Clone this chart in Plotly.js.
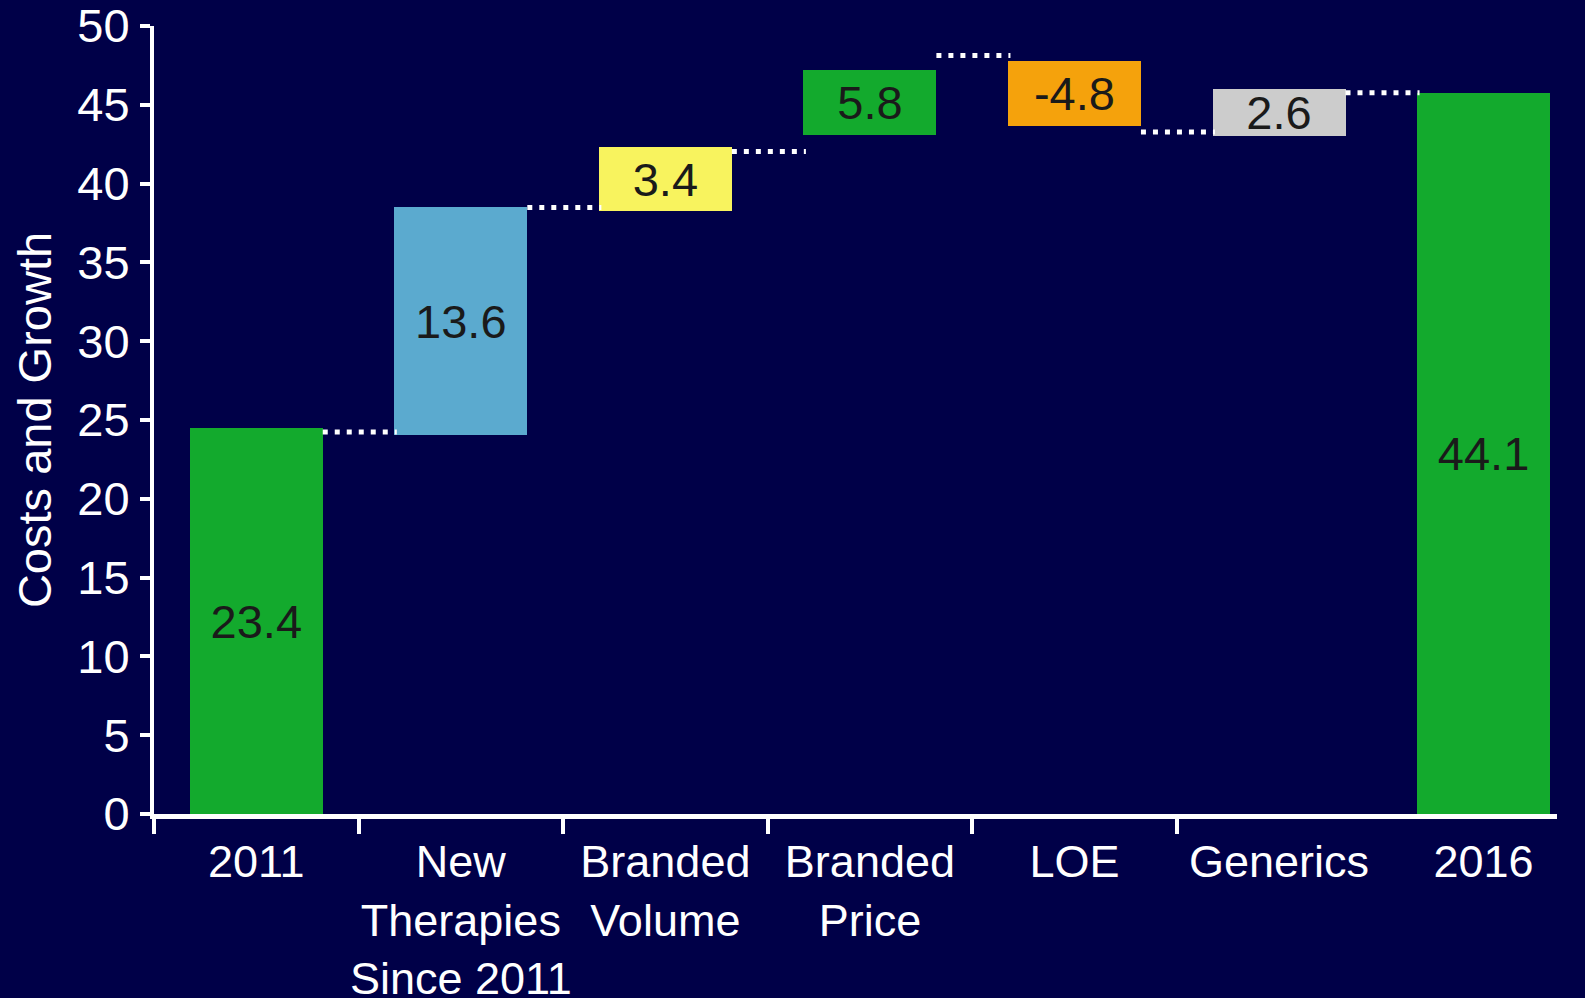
<!DOCTYPE html>
<html>
<head>
<meta charset="utf-8">
<script src="https://cdn.plot.ly/plotly-3.0.1.min.js"></script>
<style>html,body{margin:0;padding:0;background:#000048;}#chart{width:1585px;height:998px;}</style>
</head>
<body>
<div id="chart"></div>
<script>
// Data
const categories = ['2011', 'New<br>Therapies<br>Since 2011', 'Branded<br>Volume', 'Branded<br>Price', 'LOE', 'Generics', '2016'];
const barBottoms = [0, 24.05, 38.26, 43.08, 43.65, 43.01, 0];
const barTops = [24.48, 38.49, 42.30, 47.18, 47.75, 45.98, 45.78];
const barLabels = ['23.4', '13.6', '3.4', '5.8', '-4.8', '2.6', '44.1'];
const barColors = ['#13AA2D', '#5BAACF', '#F8F35E', '#13AA2D', '#F5A20C', '#CCCCCC', '#13AA2D'];
const connectorLevels = [24.24, 38.49, 42.04, 48.13, 43.27, 45.76];
const yTicks = [0, 5, 10, 15, 20, 25, 30, 35, 40, 45, 50];

const FONT = 'Liberation Sans, Arial, sans-serif';
const BAR_W = 0.65;
const idx = categories.map((c, i) => i);

const traces = [{
  type: 'bar',
  x: idx,
  base: barBottoms,
  y: barTops.map((t, i) => t - barBottoms[i]),
  width: BAR_W,
  marker: {color: barColors, line: {width: 0}},
  text: barLabels,
  textposition: 'inside',
  insidetextanchor: 'middle',
  textangle: 0,
  constraintext: 'none',
  textfont: {family: FONT, size: 47, color: '#1a1a1a'},
  hoverinfo: 'skip',
  showlegend: false
}];

connectorLevels.forEach((lvl, i) => {
  traces.push({
    type: 'scatter',
    mode: 'lines',
    x: [i + BAR_W / 2, i + 1 - BAR_W / 2 + 0.012],
    y: [lvl, lvl],
    line: {color: '#ffffff', width: 5, dash: '5px,7px'},
    hoverinfo: 'skip',
    showlegend: false
  });
});

const layout = {
  width: 1585,
  height: 998,
  paper_bgcolor: '#000048',
  plot_bgcolor: '#000048',
  margin: {l: 154, r: 28, t: 25.5, b: 184, pad: 0},
  bargap: 0,
  xaxis: {
    type: 'linear',
    range: [-0.5, 6.359],
    tickmode: 'array',
    tickvals: idx,
    ticktext: categories,
    ticklen: 0,
    showgrid: false,
    zeroline: false,
    showline: true,
    linecolor: '#ffffff',
    linewidth: 5,
    tickfont: {family: FONT, size: 45, color: '#ffffff'},
    ticklabelstandoff: 4,
    ticklabeloverflow: 'allow',
    minor: {
      tickmode: 'array',
      tickvals: idx.slice(0, 6).map(i => i - 0.5),
      ticks: 'outside',
      ticklen: 15,
      tickwidth: 4,
      tickcolor: '#ffffff',
      showgrid: false
    },
    fixedrange: true
  },
  yaxis: {
    range: [0, 50],
    tickmode: 'array',
    tickvals: yTicks,
    ticktext: yTicks.map(String),
    ticks: 'outside',
    ticklen: 10,
    tickwidth: 4,
    tickcolor: '#ffffff',
    showgrid: false,
    zeroline: false,
    showline: true,
    linecolor: '#ffffff',
    linewidth: 4,
    tickfont: {family: FONT, size: 47, color: '#ffffff'},
    ticklabelstandoff: 1,
    ticklabeloverflow: 'allow',
    title: {text: 'Costs and Growth', font: {family: FONT, size: 47, color: '#ffffff'}, standoff: 12},
    automargin: false,
    fixedrange: true
  },
  showlegend: false
};

Plotly.newPlot('chart', traces, layout, {displayModeBar: false, staticPlot: true});
</script>
</body>
</html>
